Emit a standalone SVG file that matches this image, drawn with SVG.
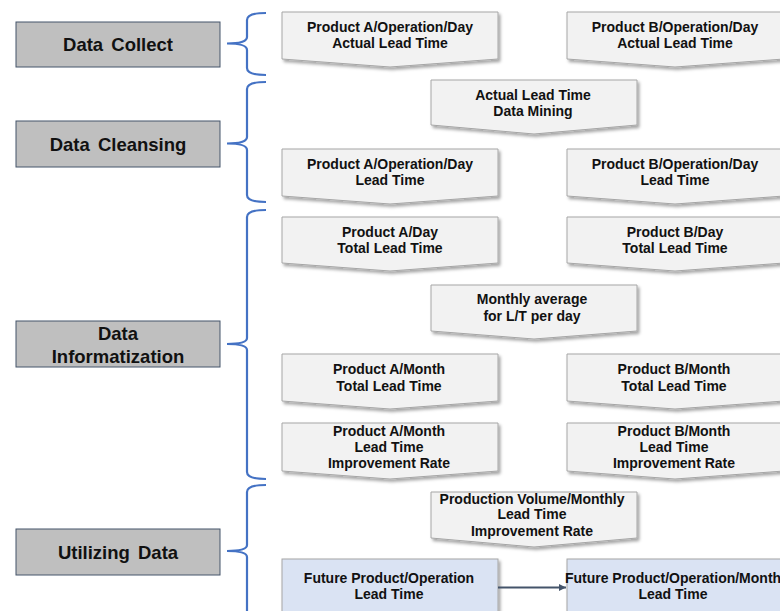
<svg xmlns="http://www.w3.org/2000/svg" width="780" height="611" viewBox="0 0 780 611">
<style>
.stage{fill:#bfbfbf;stroke:#44546a;stroke-width:1}
.stxt{font-family:"Liberation Sans",Arial,sans-serif;font-weight:bold;font-size:18.5px;fill:#111;text-anchor:middle;word-spacing:3px}
.chev{fill:#f2f2f2;stroke:#a6a6a6;stroke-width:1;filter:url(#sh)}
.fut{fill:#dae3f3;stroke:#a6a6a6;stroke-width:1;filter:url(#sh)}
.t{font-family:"Liberation Sans",Arial,sans-serif;font-weight:bold;font-size:14px;fill:#111;text-anchor:middle}
.br{fill:none;stroke:#4472c4;stroke-width:2.2}
.arr{stroke:#44546a;stroke-width:2;fill:none}
</style>
<defs>
<filter id="sh" x="-10%" y="-10%" width="125%" height="135%">
<feDropShadow dx="2" dy="2.5" stdDeviation="1.5" flood-color="#000" flood-opacity="0.35"/>
</filter>
<marker id="ah" markerWidth="8" markerHeight="8" refX="7" refY="4" orient="auto" markerUnits="userSpaceOnUse">
<path d="M0,0.5 L7,4 L0,7.5 z" fill="#44546a"/>
</marker>
</defs>

<g id="stage-collect"><rect class="stage" x="16" y="22" width="204" height="45"/><text class="stxt" x="118" y="51">Data Collect</text></g>
<g id="stage-cleansing"><rect class="stage" x="16" y="121" width="204" height="46"/><text class="stxt" x="118" y="151">Data Cleansing</text></g>
<g id="stage-info"><rect class="stage" x="16" y="321" width="204" height="46"/><text class="stxt" x="118" y="340">Data</text><text class="stxt" x="118" y="363">Informatization</text></g>
<g id="stage-util"><rect class="stage" x="16" y="529" width="204" height="46"/><text class="stxt" x="118" y="559">Utilizing Data</text></g>

<g id="brackets">
<path class="br" d="M266,13 Q247,13 247,20 L247,37 Q247,43.5 227,43.5 Q247,43.5 247,50 L247,68 Q247,75 266,75"/>
<path class="br" d="M266,82 Q247,82 247,89 L247,137 Q247,143.5 227,143.5 Q247,143.5 247,150 L247,195 Q247,202 266,202"/>
<path class="br" d="M266,210 Q247,210 247,217 L247,338 Q247,344 227,344 Q247,344 247,350 L247,472 Q247,479 266,479"/>
<path class="br" d="M266,485 Q247,485 247,492 L247,545 Q247,551 227,551 Q247,551 247,557 L247,620"/>
</g>

<g id="a-actual"><path class="chev" d="M282,12 H498 V59 L390,67 L282,59 Z"/><text class="t" x="390" y="31.5">Product A/Operation/Day</text><text class="t" x="390" y="48">Actual Lead Time</text></g>
<g id="b-actual"><path class="chev" d="M567,12 H784 V59 L675,67 L567,59 Z"/><text class="t" x="675" y="31.5">Product B/Operation/Day</text><text class="t" x="675" y="48">Actual Lead Time</text></g>

<g id="mining"><path class="chev" d="M431,80 H637 V125 L534,134 L431,125 Z"/><text class="t" x="533" y="99.5">Actual Lead Time</text><text class="t" x="533" y="116">Data Mining</text></g>

<g id="a-lt"><path class="chev" d="M282,149 H498 V196 L390,204 L282,196 Z"/><text class="t" x="390" y="168.5">Product A/Operation/Day</text><text class="t" x="390" y="185">Lead Time</text></g>
<g id="b-lt"><path class="chev" d="M567,149 H784 V196 L675,204 L567,196 Z"/><text class="t" x="675" y="168.5">Product B/Operation/Day</text><text class="t" x="675" y="185">Lead Time</text></g>

<g id="a-day"><path class="chev" d="M282,217 H498 V263 L390,271 L282,263 Z"/><text class="t" x="390" y="237">Product A/Day</text><text class="t" x="390" y="252.5">Total Lead Time</text></g>
<g id="b-day"><path class="chev" d="M567,217 H784 V263 L675,271 L567,263 Z"/><text class="t" x="675" y="237">Product B/Day</text><text class="t" x="675" y="252.5">Total Lead Time</text></g>

<g id="monthly-avg"><path class="chev" d="M431,285 H637 V331 L534,339 L431,331 Z"/><text class="t" x="532" y="304">Monthly average</text><text class="t" x="532" y="320.5">for L/T per day</text></g>

<g id="a-month"><path class="chev" d="M282,354 H498 V401 L390,409 L282,401 Z"/><text class="t" x="389" y="374">Product A/Month</text><text class="t" x="389" y="390.5">Total Lead Time</text></g>
<g id="b-month"><path class="chev" d="M567,354 H784 V401 L675,409 L567,401 Z"/><text class="t" x="674" y="374">Product B/Month</text><text class="t" x="674" y="390.5">Total Lead Time</text></g>

<g id="a-rate"><path class="chev" d="M282,423 H498 V471 L390,479 L282,471 Z"/><text class="t" x="389" y="435.5">Product A/Month</text><text class="t" x="389" y="451.5">Lead Time</text><text class="t" x="389" y="467.5">Improvement Rate</text></g>
<g id="b-rate"><path class="chev" d="M567,423 H784 V471 L675,479 L567,471 Z"/><text class="t" x="674" y="435.5">Product B/Month</text><text class="t" x="674" y="451.5">Lead Time</text><text class="t" x="674" y="467.5">Improvement Rate</text></g>

<g id="prod-volume"><path class="chev" d="M431,492 H637 V538 L534,547 L431,538 Z"/><text class="t" x="532" y="503.5">Production Volume/Monthly</text><text class="t" x="532" y="519">Lead Time</text><text class="t" x="532" y="535.5">Improvement Rate</text></g>

<g id="future-a"><rect class="fut" x="282" y="559" width="216" height="70"/><text class="t" x="389" y="583">Future Product/Operation</text><text class="t" x="389" y="599">Lead Time</text></g>
<g id="future-b"><rect class="fut" x="567" y="559" width="217" height="70"/><text class="t" x="673" y="583">Future Product/Operation/Month</text><text class="t" x="673" y="599">Lead Time</text></g>

<g id="connectors">
<line class="arr" x1="498" y1="587.5" x2="566" y2="587.5" marker-end="url(#ah)"/>
</g>
</svg>
